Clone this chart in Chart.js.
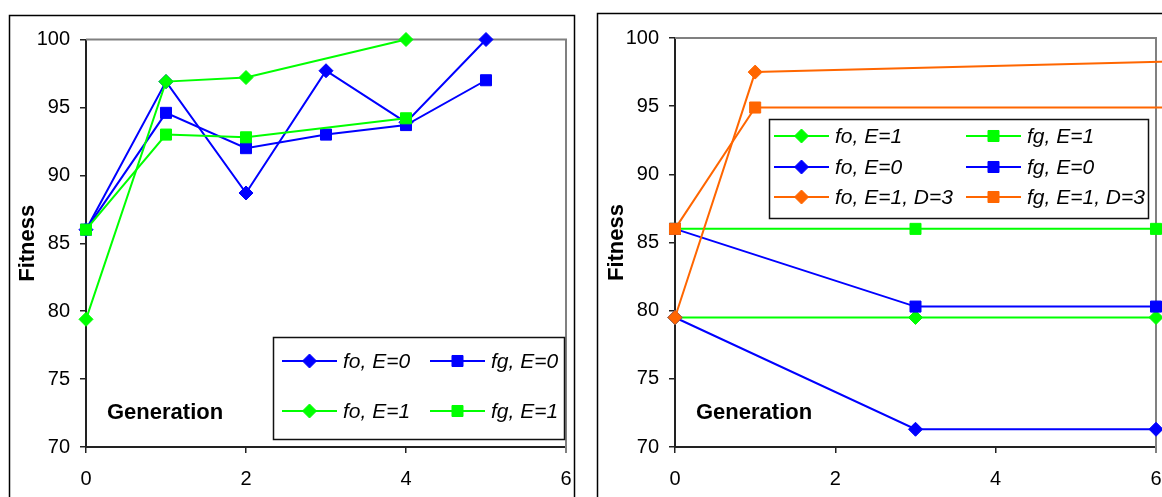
<!DOCTYPE html>
<html>
<head>
<meta charset="utf-8">
<script src="https://cdn.jsdelivr.net/npm/chart.js@4/dist/chart.umd.min.js"></script>
<style>
  html, body { margin: 0; padding: 0; background: #fff; overflow: hidden; width: 1162px; height: 497px; }
  canvas { position: absolute; top: 0; }
  #panelA { left: 0; }
  #panelB { left: 590px; }
</style>
</head>
<body>
<canvas id="panelA" width="590" height="497"></canvas>
<canvas id="panelB" width="620" height="497"></canvas>
<script>
// ---- Panel A: runs with and without elitism ----
const genA = [0, 1, 2, 3, 4, 5];
const foE0 = [86.0, 96.9, 88.7, 97.7, 93.9, 100.0];
const fgE0 = [86.0, 94.6, 92.0, 93.0, 93.7, 97.0];
const genA1 = [0, 1, 2, 4];
const foE1 = [79.4, 96.9, 97.2, 100.0];
const fgE1 = [86.0, 93.0, 92.8, 94.2];

// ---- Panel B: adds the D=3 runs ----
const genB = [0, 3, 6];
const foE1b = [79.5, 79.5, 79.5];
const fgE1b = [86.0, 86.0, 86.0];
const foE0b = [79.5, 71.3, 71.3];
const fgE0b = [86.0, 80.3, 80.3];
const genD3 = [0, 1, 7];
const foD3 = [79.5, 97.5, 98.4];
const fgD3 = [86.0, 94.9, 94.9];

const xTicks = { min: 0, max: 6, step: 2 };
const yTicks = { min: 70, max: 100, step: 5 };

const BLUE = '#0000ff', GREEN = '#00ff00', ORANGE = '#ff6600';
const FAMILY = '"Liberation Sans", Arial, Helvetica, sans-serif';
Chart.defaults.font.family = FAMILY;

function series(label, xs, ys, color, style, order) {
  return {
    label,
    data: xs.map((x, i) => ({ x, y: ys[i] })),
    borderColor: color,
    backgroundColor: color,
    borderWidth: 2,
    pointStyle: style,
    pointRadius: style === 'rect' ? 7.8 : 7,
    pointHoverRadius: style === 'rect' ? 7.8 : 7,
    pointBorderWidth: 1,
    tension: 0,
    clip: false,
    order
  };
}

// Outer frame, plot border, inside caption and legend box
const panelDecor = {
  id: 'panelDecor',
  beforeDraw(chart, args, o) {
    const ctx = chart.ctx;
    ctx.save();
    ctx.fillStyle = '#fff';
    ctx.fillRect(0, 0, chart.width, chart.height);
    ctx.strokeStyle = '#000';
    ctx.lineWidth = 1.5;
    ctx.strokeRect(o.frame.x, o.frame.y, o.frame.w, o.frame.h);
    ctx.restore();
  },
  beforeDatasetsDraw(chart, args, o) {
    const { ctx, chartArea: a } = chart;
    ctx.save();
    ctx.strokeStyle = '#808080';
    ctx.lineWidth = 2;
    ctx.beginPath();
    ctx.moveTo(a.left, a.top);
    ctx.lineTo(a.right, a.top);
    ctx.lineTo(a.right, a.bottom + 6);
    ctx.stroke();
    ctx.fillStyle = '#000';
    ctx.font = 'bold 22px ' + FAMILY;
    ctx.textBaseline = 'middle';
    ctx.textAlign = 'left';
    ctx.fillText(o.caption, a.left + 21, o.captionY);
    ctx.restore();
  },
  afterDatasetsDraw(chart, args, o) {
    const ctx = chart.ctx;
    const lg = o.legend;
    ctx.save();
    ctx.fillStyle = '#fff';
    ctx.fillRect(lg.x, lg.y, lg.w, lg.h);
    ctx.strokeStyle = '#111';
    ctx.lineWidth = 1.5;
    ctx.strokeRect(lg.x, lg.y, lg.w, lg.h);
    ctx.font = 'italic 21px ' + FAMILY;
    ctx.textBaseline = 'middle';
    ctx.textAlign = 'left';
    chart.data.datasets.forEach((ds, i) => {
      const y = lg.rows[Math.floor(i / 2)];
      const x0 = lg.cols[i % 2];
      ctx.strokeStyle = ds.borderColor;
      ctx.fillStyle = ds.backgroundColor;
      ctx.lineWidth = 2;
      ctx.beginPath();
      ctx.moveTo(x0, y);
      ctx.lineTo(x0 + 55, y);
      ctx.stroke();
      ctx.lineWidth = 1;
      Chart.helpers.drawPoint(ctx, { pointStyle: ds.pointStyle, radius: ds.pointRadius, borderWidth: 1, rotation: 0 }, x0 + 27.5, y);
      ctx.fillStyle = '#000';
      ctx.fillText(ds.label, x0 + 61, y + 1);
    });
    ctx.restore();
  }
};

function scales(yWidth) {
  const gridOpts = { drawOnChartArea: false, drawTicks: true, tickLength: 6, color: '#222', lineWidth: 1.5 };
  const borderOpts = { color: '#222', width: 2 };
  return {
    x: {
      type: 'linear', min: xTicks.min, max: xTicks.max,
      afterFit: s => { s.height = 50; },
      ticks: { stepSize: xTicks.step, color: '#000', font: { size: 20 }, padding: 14 },
      grid: gridOpts, border: borderOpts
    },
    y: {
      type: 'linear', min: yTicks.min, max: yTicks.max,
      afterFit: s => { s.width = yWidth; },
      ticks: { stepSize: yTicks.step, color: '#000', font: { size: 20 }, padding: 10 },
      title: { display: true, text: 'Fitness', color: '#000', font: { size: 22, weight: 'bold' }, padding: { top: 6, bottom: 0 } },
      grid: gridOpts, border: borderOpts
    }
  };
}

function makeChart(id, datasets, padding, yWidth, decor) {
  return new Chart(document.getElementById(id), {
    type: 'line',
    data: { datasets },
    options: {
      responsive: false,
      animation: false,
      events: [],
      layout: { padding },
      scales: scales(yWidth),
      plugins: { legend: { display: false }, tooltip: { enabled: false }, panelDecor: decor }
    },
    plugins: [panelDecor]
  });
}

makeChart('panelA', [
  series('fo, E=0', genA, foE0, BLUE, 'rectRot', 2),
  series('fg, E=0', genA, fgE0, BLUE, 'rect', 2),
  series('fo, E=1', genA1, foE1, GREEN, 'rectRot', 1),
  series('fg, E=1', genA1, fgE1, GREEN, 'rect', 1)
], { left: 9, top: 39.5, right: 24, bottom: 0 }, 77, {
  frame: { x: 9.5, y: 15.5, w: 565, h: 600 },
  caption: 'Generation', captionY: 413,
  legend: { x: 273.5, y: 337.5, w: 291, h: 102, rows: [361, 411], cols: [282, 430] }
});

makeChart('panelB', [
  series('fo, E=1', genB, foE1b, GREEN, 'rectRot', 3),
  series('fg, E=1', genB, fgE1b, GREEN, 'rect', 3),
  series('fo, E=0', genB, foE0b, BLUE, 'rectRot', 2),
  series('fg, E=0', genB, fgE0b, BLUE, 'rect', 2),
  series('fo, E=1, D=3', genD3, foD3, ORANGE, 'rectRot', 1),
  series('fg, E=1, D=3', genD3, fgD3, ORANGE, 'rect', 1)
], { left: 8, top: 38, right: 54, bottom: 0 }, 77, {
  frame: { x: 7.5, y: 13.5, w: 700, h: 600 },
  caption: 'Generation', captionY: 413,
  legend: { x: 179.5, y: 119.5, w: 379, h: 99, rows: [136, 167, 197], cols: [184, 376] }
});
</script>
</body>
</html>
